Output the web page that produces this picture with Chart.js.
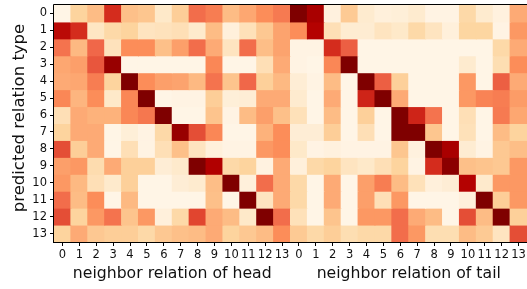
<!DOCTYPE html>
<html><head><meta charset="utf-8">
<script src="https://cdn.jsdelivr.net/npm/chart.js@4"></script>
<style>html,body{margin:0;padding:0;background:#fff}</style>
</head><body>
<canvas id="c" width="527" height="289"></canvas>
<script>
const rowLabels = ['0','1','2','3','4','5','6','7','8','9','10','11','12','13'];
const headLabels = ['0','1','2','3','4','5','6','7','8','9','10','11','12','13'];
const tailLabels = ['0','1','2','3','4','5','6','7','8','9','10','11','12','13'];
const xTitleHead = 'neighbor relation of head';
const xTitleTail = 'neighbor relation of tail';
const yTitle = 'predicted relation type';

const headScores = [
  [0.02,0.25,0.37,0.76,0.35,0.32,0.12,0.28,0.60,0.55,0.37,0.43,0.50,0.56],
  [0.85,0.76,0.14,0.22,0.25,0.15,0.16,0.18,0.11,0.37,0.06,0.17,0.31,0.44],
  [0.58,0.38,0.62,0.16,0.50,0.50,0.35,0.45,0.60,0.42,0.15,0.60,0.36,0.44],
  [0.43,0.45,0.66,0.94,0.02,0.02,0.02,0.02,0.02,0.52,0.02,0.02,0.18,0.42],
  [0.42,0.43,0.55,0.25,1.00,0.50,0.45,0.44,0.38,0.58,0.33,0.62,0.27,0.38],
  [0.52,0.39,0.50,0.12,0.52,1.00,0.02,0.03,0.03,0.28,0.07,0.08,0.42,0.42],
  [0.18,0.42,0.40,0.40,0.52,0.57,1.00,0.02,0.02,0.33,0.03,0.37,0.45,0.35],
  [0.25,0.42,0.42,0.02,0.07,0.03,0.22,0.94,0.68,0.52,0.02,0.02,0.40,0.50],
  [0.68,0.28,0.42,0.02,0.18,0.03,0.18,0.35,0.15,0.06,0.03,0.03,0.47,0.50],
  [0.45,0.47,0.20,0.42,0.27,0.27,0.08,0.11,1.00,0.88,0.22,0.25,0.04,0.42],
  [0.47,0.38,0.18,0.11,0.27,0.02,0.02,0.08,0.10,0.36,1.00,0.06,0.60,0.42],
  [0.60,0.37,0.50,0.02,0.38,0.02,0.02,0.02,0.02,0.35,0.02,1.00,0.15,0.42],
  [0.68,0.25,0.47,0.58,0.33,0.47,0.06,0.22,0.70,0.42,0.37,0.12,1.00,0.60],
  [0.25,0.42,0.31,0.28,0.28,0.22,0.31,0.35,0.37,0.42,0.25,0.31,0.37,0.50]
];
const tailScores = [
  [1.00,0.90,0.05,0.30,0.10,0.06,0.07,0.10,0.03,0.03,0.22,0.10,0.05,0.42],
  [0.50,0.87,0.18,0.09,0.09,0.15,0.12,0.22,0.15,0.06,0.24,0.24,0.03,0.47],
  [0.03,0.03,0.76,0.64,0.02,0.02,0.02,0.02,0.02,0.02,0.02,0.02,0.22,0.42],
  [0.03,0.02,0.52,1.00,0.02,0.02,0.02,0.02,0.02,0.02,0.10,0.02,0.19,0.50],
  [0.08,0.03,0.37,0.02,1.00,0.64,0.27,0.02,0.02,0.02,0.47,0.02,0.64,0.42],
  [0.10,0.02,0.42,0.02,0.78,1.00,0.42,0.02,0.02,0.02,0.47,0.53,0.55,0.46],
  [0.17,0.02,0.37,0.02,0.27,0.02,1.00,0.78,0.58,0.02,0.18,0.02,0.56,0.43],
  [0.08,0.08,0.28,0.02,0.18,0.02,1.00,1.00,0.32,0.02,0.17,0.02,0.37,0.25],
  [0.12,0.03,0.05,0.03,0.03,0.03,0.32,0.05,1.00,0.90,0.09,0.03,0.31,0.36],
  [0.06,0.22,0.25,0.15,0.12,0.18,0.25,0.03,0.76,0.97,0.35,0.33,0.31,0.47],
  [0.22,0.02,0.42,0.02,0.45,0.55,0.37,0.17,0.06,0.08,0.87,0.11,0.47,0.47],
  [0.22,0.02,0.42,0.02,0.45,0.18,0.47,0.02,0.02,0.02,0.06,1.00,0.28,0.47],
  [0.17,0.02,0.33,0.02,0.47,0.47,0.60,0.42,0.37,0.02,0.68,0.37,1.00,0.27],
  [0.30,0.22,0.28,0.19,0.22,0.22,0.60,0.47,0.19,0.19,0.37,0.30,0.15,0.68]
];

const orrdStops = ['#fff7ec','#fee8c8','#fdd49e','#fdbb84','#fc8d59','#ef6548','#d7301f','#b30000','#7f0000'];
function hexToRgb(h){return [parseInt(h.substr(1,2),16),parseInt(h.substr(3,2),16),parseInt(h.substr(5,2),16)];}
const stopRgb = orrdStops.map(hexToRgb);
function orrd(v){
  v = Math.max(0, Math.min(1, v));
  const p = v * (stopRgb.length - 1);
  const i = Math.min(Math.floor(p), stopRgb.length - 2);
  const t = p - i;
  const a = stopRgb[i], b = stopRgb[i+1];
  const c = a.map((x,k)=>Math.round(x + (b[k]-x)*t));
  return 'rgb(' + c.join(',') + ')';
}

const colLabels = headLabels.concat(tailLabels);
const FONT = 'DejaVu Sans';
const TEXT = '#111';

const datasets = rowLabels.map((r, i) => ({
  label: r,
  data: colLabels.map(() => 1),
  backgroundColor: headScores[i].concat(tailScores[i]).map(orrd),
  borderWidth: 0,
  inflateAmount: 0.5,
  barPercentage: 1,
  categoryPercentage: 1
}));

const framePlugin = {
  id: 'frame',
  afterDraw(chart) {
    const {ctx, chartArea: a, scales} = chart;
    ctx.save();
    ctx.strokeStyle = '#000';
    ctx.lineWidth = 1;
    ctx.beginPath();
    ctx.moveTo(a.left - 0.5, a.bottom + 0.5);
    ctx.lineTo(a.left - 0.5, a.top - 0.5);
    ctx.lineTo(a.right + 1, a.top - 0.5);
    ctx.moveTo(a.left - 1, a.bottom + 0.5);
    ctx.lineTo(a.right + 1, a.bottom + 0.5);
    ctx.stroke();
    ctx.fillStyle = TEXT;
    ctx.textAlign = 'center';
    ctx.textBaseline = 'middle';
    ctx.font = '15.7px "' + FONT + '"';
    const xs = scales.x;
    const hx = (xs.getPixelForValue(6) + xs.getPixelForValue(7)) / 2;
    const tx = (xs.getPixelForValue(20) + xs.getPixelForValue(21)) / 2;
    ctx.fillText(xTitleHead, hx, 274);
    ctx.fillText(xTitleTail, tx, 274);
    ctx.font = '16.5px "' + FONT + '"';
    ctx.translate(20, 118);
    ctx.rotate(-Math.PI / 2);
    ctx.fillText(yTitle, 0, 0);
    ctx.restore();
  }
};

new Chart(document.getElementById('c'), {
  type: 'bar',
  data: { labels: colLabels, datasets },
  options: {
    responsive: false,
    animation: false,
    devicePixelRatio: 1,
    layout: { padding: { top: 5, right: 0, left: 0, bottom: 0 } },
    plugins: { legend: { display: false }, tooltip: { enabled: false } },
    scales: {
      x: {
        stacked: true,
        border: { display: false },
        grid: { offset: false, drawOnChartArea: false, tickLength: 4, tickColor: '#000', tickWidth: 1 },
        ticks: { font: { family: FONT, size: 11.5 }, color: TEXT, maxRotation: 0, minRotation: 0, autoSkip: false, padding: 2 },
        afterFit(s) { s.height = 47; s.paddingLeft = 0; s.paddingRight = 0; }
      },
      y: {
        stacked: true,
        min: 0,
        max: 14,
        reverse: true,
        border: { display: false },
        grid: { drawOnChartArea: false, tickLength: 4, tickColor: '#000', tickWidth: 1 },
        afterBuildTicks(s) { s.ticks = rowLabels.map((_, i) => ({ value: i + 0.5 })); },
        ticks: { font: { family: FONT, size: 11.5 }, color: TEXT, padding: 3, autoSkip: false,
          callback: (v, i) => rowLabels[i] },
        afterFit(s) { s.width = 54; s.paddingTop = 0; s.paddingBottom = 0; }
      }
    }
  },
  plugins: [framePlugin]
});
</script>
</body></html>
